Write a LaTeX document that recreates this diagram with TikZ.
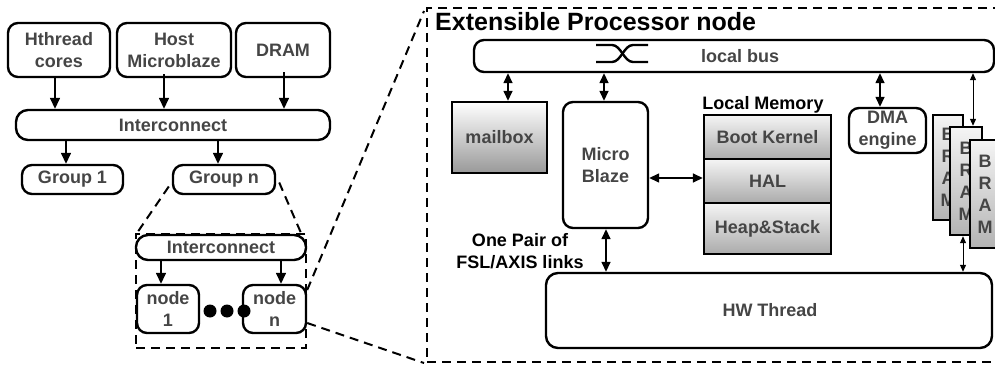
\documentclass[tikz,border=0pt]{standalone}
\usepackage{fontspec}
\setmainfont{Liberation Sans}
\usetikzlibrary{arrows.meta}
\newcommand\myfs{\fontsize{18}{22}\selectfont\bfseries}
\newcommand\mytitlefs{\fontsize{25}{28}\selectfont\bfseries}
\definecolor{lbl}{HTML}{454545}
\begin{document}
\begin{tikzpicture}[x=1pt,y=-1pt,
  box/.style={draw,line width=2.4pt,rounded corners=10pt,text=lbl,font=\myfs,align=center,inner sep=0pt},
  sqbox/.style={draw,line width=2.4pt,text=lbl,font=\myfs,align=center,inner sep=0pt,top color=white,bottom color=black!40},
  membox/.style={draw,line width=2.4pt,text=lbl,font=\myfs,align=center,inner sep=0pt,top color=black!4,bottom color=black!33},
  bram/.style={draw,line width=2.4pt,text=lbl,font=\myfs,align=center,inner sep=0pt,top color=black!4,bottom color=black!30,minimum width=30pt},
  dashbox/.style={draw,line width=2pt,dash pattern=on 9pt off 6pt,inner sep=0pt},
  dz/.style={line width=2pt,dash pattern=on 9pt off 6pt},
  arr/.style={-{Triangle[length=11pt,width=10pt]},line width=1.5pt},
  darr/.style={{Triangle[length=10pt,width=9pt]}-{Triangle[length=10pt,width=9pt]},line width=1.5pt},
  tarr/.style={{Triangle[length=7pt,width=6pt]}-{Triangle[length=7pt,width=6pt]},line width=1pt},
  dotn/.style={circle,fill=black,inner sep=0pt,minimum size=13pt}
]
\useasboundingbox (0,0) rectangle (995,366);
\clip (0,0) rectangle (995,366);

% ---------- left part ----------
\node[box,minimum width=102pt,minimum height=54pt] (hth) at (59,50) {Hthread\\cores};
\node[box,minimum width=114pt,minimum height=54pt] (host) at (174,50) {Host\\Microblaze};
\node[box,minimum width=94pt,minimum height=54pt] (dram) at (283,50) {DRAM};
\node[box,rounded corners=12pt,minimum width=314pt,minimum height=30pt] (ic1) at (173,125) {Interconnect};
\node[box,minimum width=101pt,minimum height=29pt] (g1) at (72.5,179.5) {Group 1};
\node[box,minimum width=102pt,minimum height=29pt] (gn) at (224,179.5) {Group n};

\draw[arr] ([xshift=-4pt]hth.south) -- ([xshift=-4pt]hth.south |- ic1.north);
\draw[arr] ([xshift=-10pt,yshift=4pt]host.south) -- ([xshift=-10pt]host.south |- ic1.north);
\draw[arr] ([xshift=1pt,yshift=6pt]dram.south) -- ([xshift=1pt]dram.south |- ic1.north);
\draw[arr] (ic1.south -| g1.north) ++(-6.5pt,0) -- ([xshift=-6.5pt]g1.north);
\draw[arr] (ic1.south -| gn.north) ++(-6pt,0) -- ([xshift=-6pt]gn.north);

\node[dashbox,minimum width=170pt,minimum height=114pt] (grp) at (221,291) {};
\node[box,rounded corners=12pt,minimum width=170pt,minimum height=25pt] (ic2) at (221,247.5) {Interconnect};
\node[box,minimum width=62pt,minimum height=48pt] (n1) at (168,309) {node\\1};
\node[box,minimum width=63pt,minimum height=48pt] (nn) at (274.5,309) {node\\n};
\node[dotn] (d1) at (210,311) {};
\node[dotn] (d2) at (227,311) {};
\node[dotn] (d3) at (244,311) {};

\draw[arr] ([xshift=-7pt]ic2.south -| n1.north) -- ([xshift=-7pt]n1.north);
\draw[arr] ([xshift=6.5pt]ic2.south -| nn.north) -- ([xshift=6.5pt]nn.north);

\draw[dz] ([xshift=-3pt,yshift=-7pt]gn.west) -- ([xshift=2pt]grp.north west);
\draw[dz] ([xshift=3pt,yshift=-3pt]gn.east) -- ([xshift=-6pt]grp.north east);

% ---------- extensible processor node ----------
\node[dashbox,minimum width=583pt,minimum height=354pt] (epn) at (718.5,185) {};
\draw[dz] ([yshift=19pt]nn.east) -- ([xshift=-2pt,yshift=-4pt]epn.north west);
\draw[dz] ([yshift=-14pt]nn.east) -- ([xshift=-2pt]epn.south west);

\node[anchor=base west,font=\mytitlefs,inner sep=0pt] (title) at (435,31) {Extensible Processor node};

\node[draw,line width=2.4pt,rounded corners=10pt,minimum width=520pt,minimum height=32pt,inner sep=0pt] (bus) at (734,56) {};
\node[text=lbl,font=\myfs,inner sep=0pt] (buslbl) at (740,56) {local bus};
\draw[line width=2.4pt] (596,45) -- (612,45) .. controls (621,45) and (624,62) .. (633,62) -- (648,62);
\draw[line width=2.4pt] (596,62) -- (612,62) .. controls (621,62) and (624,45) .. (633,45) -- (648,45);

\node[sqbox,minimum width=95pt,minimum height=71pt] (mailbox) at (499.5,137.5) {mailbox};
\node[box,minimum width=85pt,minimum height=126pt] (mb) at (605.5,165) {Micro\\Blaze};

\node[font=\myfs,anchor=base,inner sep=0pt] (lmlbl) at (763,110) {Local Memory};
\node[membox,minimum width=127pt,minimum height=44pt] (boot) at (767.5,137) {Boot Kernel};
\node[membox,minimum width=127pt,minimum height=44pt] (hal) at (767.5,181) {HAL};
\node[membox,minimum width=127pt,minimum height=51pt] (heap) at (767.5,228.5) {Heap\&Stack};

\node[box,minimum width=77pt,minimum height=45pt] (dma) at (887.5,130.5) {DMA\\engine};

\node[bram,minimum height=105pt] (br1) at (948,167.5) {B\\R\\A\\M};
\node[bram,minimum width=32pt,minimum height=108pt] (br2) at (966,181) {B\\R\\A\\M};
\node[bram,minimum height=108pt] (br3) at (985,194) {B\\R\\A\\M};

\node[box,rounded corners=12pt,minimum width=446pt,minimum height=75pt] (hw) at (769,310.5) {};
\node[text=lbl,font=\myfs,inner sep=0pt] (hwlbl) at (770,310.5) {HW Thread};

\node[font=\myfs,align=center,inner sep=0pt] (fsl) at (520,251) {One Pair of\\FSL/AXIS links};

% connectors
\draw[darr] ([xshift=8.5pt]mailbox.north |- bus.south) -- ([xshift=8.5pt]mailbox.north);
\draw[darr] ([xshift=-1.5pt]mb.north |- bus.south) -- ([xshift=-1.5pt]mb.north);
\draw[darr] ([xshift=-7.5pt]dma.north |- bus.south) -- ([xshift=-7.5pt]dma.north);
\draw[tarr] ([xshift=7pt]br2.north |- bus.south) -- ([xshift=7pt]br2.north);
\draw[tarr] ([xshift=-3pt]br2.south) -- ([xshift=-3pt]br2.south |- hw.north);
\draw[darr] (mb.east |- 0,178) -- (hal.west |- 0,178);
\draw[darr] ([xshift=0.5pt]mb.south) -- ([xshift=0.5pt]mb.south |- hw.north);
\end{tikzpicture}
\end{document}
